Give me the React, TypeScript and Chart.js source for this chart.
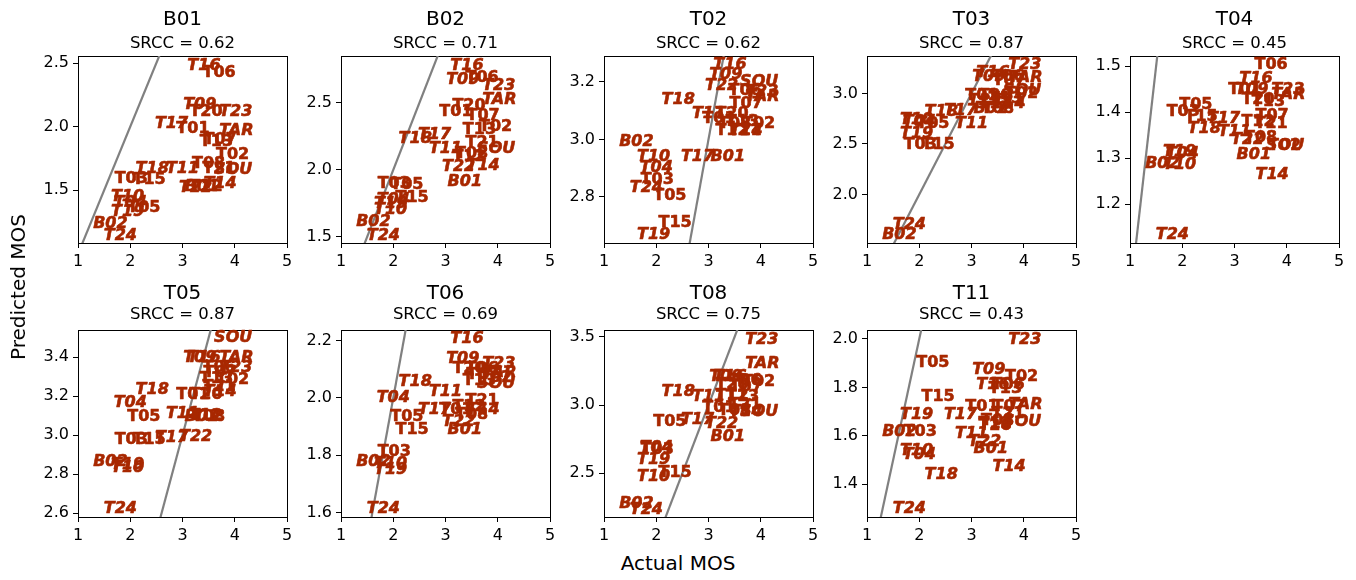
import React, { useEffect, useRef } from 'react';
import { Chart, registerables } from 'chart.js';

Chart.register(...registerables);

const FONT = "'DejaVu Sans', sans-serif";
const LABEL_COLOR = '#a82800';

// Condition labels shown in every panel
const conditions = [
  'B01', 'B02', 'T01', 'T02', 'T03', 'T04', 'T05', 'T06', 'T07', 'T08',
  'T09', 'T10', 'T11', 'T12', 'T13', 'T14', 'T15', 'T16', 'T17', 'T18',
  'T19', 'T20', 'T21', 'T22', 'T23', 'T24', 'TAR', 'SOU',
];

// Actual MOS per condition (x), shared by all panels
const actualMOS = [
  3.37, 1.62, 3.20, 3.96, 2.02, 2.00, 2.26, 3.70, 3.72, 3.50,
  3.33, 1.95, 3.00, 3.45, 3.65, 3.72, 2.36, 3.41, 2.79, 2.42,
  1.95, 3.45, 3.70, 3.25, 4.02, 1.81, 4.03, 3.97,
];

const italicLabels = ['B01', 'B02', 'T04', 'T09', 'T10', 'T11', 'T14', 'T16', 'T17', 'T18', 'T19', 'T22', 'T23', 'T24', 'TAR', 'SOU'];

const panelNames = ['B01', 'B02', 'T02', 'T03', 'T04', 'T05', 'T06', 'T08', 'T11'];
const srccValues = [0.62, 0.71, 0.62, 0.87, 0.45, 0.87, 0.69, 0.75, 0.43];

// Predicted MOS per condition (y), one array per panel
const predB01 = [
  1.53, 1.24, 1.98, 1.78, 1.59, 1.40, 1.36, 2.42, 1.90, 1.71,
  2.175, 1.45, 1.67, 1.53, 1.88, 1.55, 1.58, 2.48, 2.02, 1.67,
  1.33, 2.115, 1.67, 1.52, 2.115, 1.14, 1.97, 1.66,
];
const predB02 = [
  1.91, 1.61, 2.43, 2.32, 1.90, 1.78, 1.89, 2.69, 2.40, 2.12,
  2.67, 1.70, 2.16, 2.10, 2.30, 2.03, 1.79, 2.78, 2.26, 2.23,
  1.75, 2.48, 2.20, 2.02, 2.63, 1.51, 2.52, 2.16,
];
const predT02 = [
  2.94, 2.99, 3.07, 3.055, 2.86, 2.90, 2.805, 3.17, 3.125, 3.055,
  3.223, 2.94, 3.09, 3.03, 3.06, 3.03, 2.71, 3.258, 2.94, 3.136,
  2.67, 3.09, 3.03, 3.188, 3.165, 2.83, 3.148, 3.20,
];
const predT03 = [
  2.85, 1.60, 2.98, 3.00, 2.49, 2.72, 2.70, 3.165, 3.12, 2.85,
  3.165, 2.74, 2.70, 2.90, 2.95, 2.90, 2.49, 3.20, 2.83, 2.82,
  2.60, 2.98, 2.93, 2.93, 3.28, 1.70, 3.15, 3.03,
];
const predT04 = [
  1.307, 1.288, 1.448, 1.328, 1.40, 1.31, 1.415, 1.502, 1.393, 1.345,
  1.448, 1.285, 1.357, 1.379, 1.422, 1.263, 1.39, 1.473, 1.386, 1.364,
  1.314, 1.426, 1.375, 1.339, 1.448, 1.133, 1.437, 1.328,
];
const predT05 = [
  3.095, 2.863, 3.207, 3.285, 2.975, 3.164, 3.095, 3.345, 3.32, 3.095,
  3.397, 2.83, 3.11, 3.10, 3.29, 3.22, 2.975, 3.397, 2.984, 3.233,
  2.85, 3.207, 3.25, 2.992, 3.345, 2.622, 3.397, 3.50,
];
const predT06 = [
  1.888, 1.777, 1.96, 2.07, 1.812, 2.002, 1.934, 2.10, 2.08, 1.94,
  2.138, 1.771, 2.02, 1.97, 2.06, 1.96, 1.888, 2.206, 1.96, 2.057,
  1.748, 2.103, 1.99, 1.917, 2.12, 1.614, 2.086, 2.05,
];
const predT08 = [
  2.768, 2.28, 2.98, 3.17, 2.67, 2.683, 2.878, 3.18, 3.13, 2.96,
  3.21, 2.476, 3.06, 3.07, 3.06, 2.95, 2.50, 3.21, 2.89, 3.10,
  2.598, 3.146, 3.00, 2.866, 3.476, 2.23, 3.305, 2.95,
];
const predT11 = [
  1.548, 1.617, 1.72, 1.844, 1.617, 1.52, 1.90, 1.81, 1.72, 1.66,
  1.872, 1.54, 1.61, 1.65, 1.796, 1.472, 1.761, 1.81, 1.686, 1.437,
  1.686, 1.64, 1.69, 1.575, 1.996, 1.30, 1.727, 1.658,
];
const predictions = [predB01, predB02, predT02, predT03, predT04, predT05, predT06, predT08, predT11];

const yLimits = [
  [1.086, 2.555], [1.455, 2.85], [2.64, 3.29], [1.52, 3.37], [1.116, 1.522],
  [2.58, 3.54], [1.585, 2.237], [2.18, 3.55], [1.265, 2.037],
];
const yTickValues = [
  [1.5, 2.0, 2.5], [1.5, 2.0, 2.5], [2.8, 3.0, 3.2], [2.0, 2.5, 3.0], [1.2, 1.3, 1.4, 1.5],
  [2.6, 2.8, 3.0, 3.2, 3.4], [1.6, 1.8, 2.0, 2.2], [2.5, 3.0, 3.5], [1.4, 1.6, 1.8, 2.0],
];
const xTickValues = [1, 2, 3, 4, 5];
const identityLine = [1, 5];

const CANVAS_W = 273;
const CANVAS_H = 274;
const AXIS_LEFT = 50;
const AXIS_TOP = 56;

function Panel({ index }: { index: number }) {
  const ref = useRef<HTMLCanvasElement | null>(null);
  const col = index % 5;
  const row = Math.floor(index / 5);
  const left = 78 + col * 263 - AXIS_LEFT;
  const top = row * 274;

  useEffect(() => {
    const canvas = ref.current;
    if (!canvas) return;
    const preds = predictions[index];
    const [ymin, ymax] = yLimits[index];
    const titleY = row === 0 ? 24.5 : 25;
    const subY = row === 0 ? 48 : 45;

    const panelPlugin = {
      id: 'panelDecor',
      beforeDatasetsDraw(chart: any) {
        const { ctx, chartArea } = chart;
        ctx.save();
        ctx.strokeStyle = '#000';
        ctx.lineWidth = 1;
        ctx.strokeRect(
          Math.round(chartArea.left) + 0.5,
          Math.round(chartArea.top) + 0.5,
          Math.round(chartArea.right - chartArea.left),
          Math.round(chartArea.bottom - chartArea.top)
        );
        ctx.restore();
      },
      afterDatasetsDraw(chart: any) {
        const { ctx } = chart;
        const meta = chart.getDatasetMeta(1);
        ctx.save();
        ctx.fillStyle = LABEL_COLOR;
        ctx.strokeStyle = LABEL_COLOR;
        ctx.lineWidth = 0.6;
        ctx.lineJoin = 'round';
        ctx.textAlign = 'center';
        ctx.textBaseline = 'middle';
        meta.data.forEach((pt: any, i: number) => {
          const name = conditions[i];
          const it = italicLabels.includes(name) ? 'italic ' : '';
          ctx.font = `${it}bold 16px ${FONT}`;
          ctx.fillText(name, pt.x, pt.y);
          ctx.strokeText(name, pt.x, pt.y);
        });
        ctx.restore();
      },
      afterDraw(chart: any) {
        const { ctx, chartArea } = chart;
        const cx = (chartArea.left + chartArea.right) / 2;
        ctx.save();
        ctx.fillStyle = '#000';
        ctx.textAlign = 'center';
        ctx.textBaseline = 'alphabetic';
        ctx.font = `20px ${FONT}`;
        ctx.fillText(panelNames[index], cx, titleY);
        ctx.font = `16.5px ${FONT}`;
        ctx.fillText(`SRCC = ${srccValues[index].toFixed(2)}`, cx, subY);
        ctx.restore();
      },
    };

    const chart = new Chart(canvas, {
      type: 'scatter',
      data: {
        datasets: [
          {
            type: 'line',
            data: identityLine.map((v) => ({ x: v, y: v })),
            borderColor: '#808080',
            borderWidth: 2.2,
            pointRadius: 0,
            fill: false,
            clip: 0,
          } as any,
          {
            type: 'scatter',
            data: preds.map((p, i) => ({ x: actualMOS[i], y: p })),
            pointRadius: 0,
            pointHoverRadius: 0,
            backgroundColor: 'rgba(0,0,0,0)',
            borderColor: 'rgba(0,0,0,0)',
          },
        ],
      },
      options: {
        animation: false,
        responsive: false,
        events: [],
        layout: { padding: { left: 0, right: CANVAS_W - AXIS_LEFT - 209, top: AXIS_TOP, bottom: 0 } },
        plugins: {
          legend: { display: false },
          tooltip: { enabled: false },
          title: { display: false },
        },
        scales: {
          x: {
            type: 'linear',
            min: 1,
            max: 5,
            afterBuildTicks: (s: any) => {
              s.ticks = xTickValues.map((v) => ({ value: v }));
            },
            afterFit: (s: any) => {
              s.height = 31;
            },
            grid: { display: true, drawOnChartArea: false, drawTicks: true, tickLength: 5, color: '#000', lineWidth: 1 },
            border: { display: false },
            ticks: {
              color: '#000',
              font: { family: FONT, size: 16 },
              padding: 4,
              maxRotation: 0,
              autoSkip: false,
              callback: (v: any) => String(v),
            },
          },
          y: {
            type: 'linear',
            min: ymin,
            max: ymax,
            afterBuildTicks: (s: any) => {
              s.ticks = yTickValues[index].map((v) => ({ value: v }));
            },
            afterFit: (s: any) => {
              s.width = AXIS_LEFT;
            },
            grid: { display: true, drawOnChartArea: false, drawTicks: true, tickLength: 5, color: '#000', lineWidth: 1 },
            border: { display: false },
            ticks: {
              color: '#000',
              font: { family: FONT, size: 16 },
              padding: 4,
              autoSkip: false,
              callback: (v: any) => Number(v).toFixed(1),
            },
          },
        },
      },
      plugins: [panelPlugin],
    } as any);

    return () => chart.destroy();
  }, [index]);

  return (
    <canvas
      ref={ref}
      width={CANVAS_W}
      height={CANVAS_H}
      style={{ position: 'absolute', left, top, width: CANVAS_W, height: CANVAS_H }}
    />
  );
}

export default function App() {
  return (
    <div
      style={{
        position: 'absolute',
        left: 0,
        top: 0,
        width: 1356,
        height: 580,
        background: '#fff',
        overflow: 'hidden',
      }}
    >
      {panelNames.map((n, i) => (
        <Panel key={n} index={i} />
      ))}
      <div
        style={{
          position: 'absolute',
          left: 0,
          top: 551,
          width: 1356,
          textAlign: 'center',
          fontFamily: FONT,
          fontSize: 20,
          lineHeight: '24px',
          color: '#000',
        }}
      >
        Actual MOS
      </div>
      <div
        style={{
          position: 'absolute',
          left: 18,
          top: 287,
          transform: 'translate(-50%, -50%) rotate(-90deg)',
          whiteSpace: 'nowrap',
          fontFamily: FONT,
          fontSize: 20,
          lineHeight: '24px',
          color: '#000',
        }}
      >
        Predicted MOS
      </div>
    </div>
  );
}
